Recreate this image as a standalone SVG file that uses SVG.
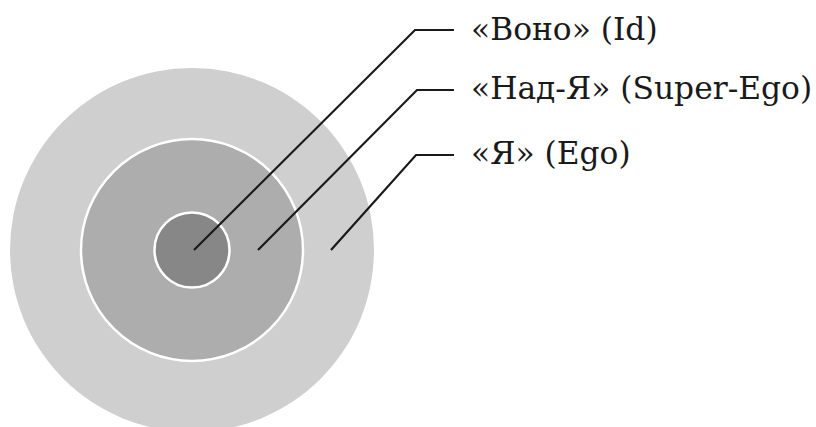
<svg xmlns="http://www.w3.org/2000/svg" width="816" height="427" viewBox="0 0 816 427">
<style>
.lbl{font-family:'DejaVu Serif',serif;font-size:31.3px;fill:#1a1a1a}
.lead{fill:none;stroke:#1a1a1a;stroke-width:2.2;stroke-linejoin:miter}
.ring{stroke:#ffffff;stroke-width:2.5}
</style>
<rect width="816" height="427" fill="#ffffff"/>
<g id="ego-circle"><circle cx="192" cy="250" r="182" fill="#cfcfcf"/></g>
<g id="superego-circle"><circle class="ring" cx="192" cy="250" r="111" fill="#adadad"/></g>
<g id="id-circle"><circle class="ring" cx="192" cy="250" r="37.5" fill="#878787"/></g>
<g id="connectors">
<polyline class="lead" points="194,250 415,30 454,30"/>
<polyline class="lead" points="258,250 417,90 454,90"/>
<polyline class="lead" points="331,250 416,155 454,155"/>
</g>
<g id="label-id"><text class="lbl" x="471" y="40">«Воно» (Id)</text></g>
<g id="label-superego"><text class="lbl" x="471" y="99">«Над-Я» (Super-Ego)</text></g>
<g id="label-ego"><text class="lbl" x="471" y="164">«Я» (Ego)</text></g>
</svg>
